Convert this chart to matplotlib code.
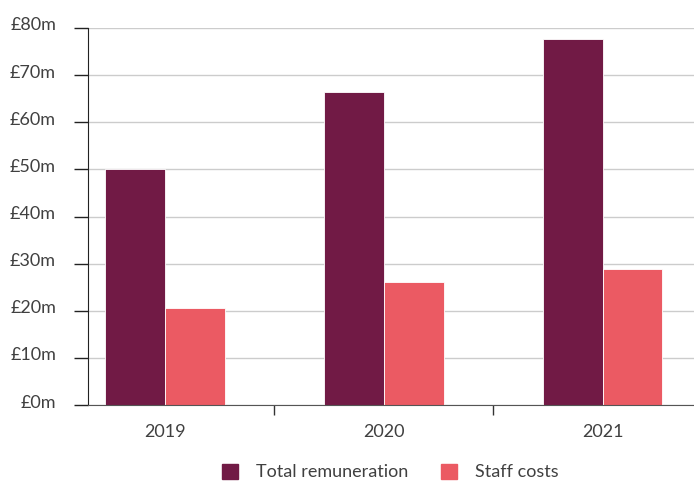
import numpy as np
import matplotlib
matplotlib.use("Agg")
import matplotlib.pyplot as plt
import matplotlib.transforms as mtransforms
from matplotlib.patches import Patch

# datos (millones de libras)
years = ["2019", "2020", "2021"]
total_remuneration = [50.0, 66.4, 77.6]
staff_costs = [20.5, 26.2, 28.9]
y_ticks = [0, 10, 20, 30, 40, 50, 60, 70, 80]
y_labels = [f"£{v}m" for v in y_ticks]

col_total = "#711a45"
col_staff = "#eb5a63"
text_col = "#404040"

plt.rcParams["font.family"] = ["Lato", "DejaVu Sans"]

fig = plt.figure(figsize=(6.94, 4.82), dpi=100, facecolor="white")
ax = fig.add_axes([88 / 694, 77 / 482, 606 / 694, 377 / 482])

x = np.arange(len(years))
w = 0.274
ax.bar(x - w / 2, total_remuneration, w, color=col_total, edgecolor="white", linewidth=0.6, zorder=3)
ax.bar(x + w / 2, staff_costs, w, color=col_staff, edgecolor="white", linewidth=0.6, zorder=3)

ax.set_ylim(0, 80)
ax.set_xlim(-0.352, 2.418)
ax.set_yticks(y_ticks)
ax.set_yticklabels(y_labels, fontsize=13, color=text_col)
ax.tick_params(axis="y", length=10, width=1, color="#222222", pad=13)
ax.yaxis.grid(True, color="#cccccc", linewidth=1, zorder=0)

# subir un poco las etiquetas del eje y
shift = mtransforms.ScaledTranslation(0, 4 / 100, fig.dpi_scale_trans)
for lab in ax.get_yticklabels():
    lab.set_transform(lab.get_transform() + shift)

ax.set_xticks(x)
ax.set_xticklabels(years, fontsize=13, color=text_col)
ax.tick_params(axis="x", which="major", length=0, pad=14)
ax.set_xticks([0.5, 1.5], minor=True)
ax.tick_params(axis="x", which="minor", length=7, width=1, color="#333333")

for s in ["top", "right"]:
    ax.spines[s].set_visible(False)
ax.spines["left"].set_color("#222222")
ax.spines["bottom"].set_color("#555555")
ax.spines["left"].set_zorder(4)
ax.spines["bottom"].set_zorder(4)

handles = [Patch(color=col_total, label="Total remuneration"),
           Patch(color=col_staff, label="Staff costs")]
fig.legend(handles=handles, loc="center", bbox_to_anchor=(0.562, 0.021), ncol=2,
           frameon=False, fontsize=13, labelcolor=text_col,
           handlelength=0.9, handleheight=0.9, handletextpad=1.0, columnspacing=1.8)

fig.savefig("out.png", dpi=100, facecolor="white")
